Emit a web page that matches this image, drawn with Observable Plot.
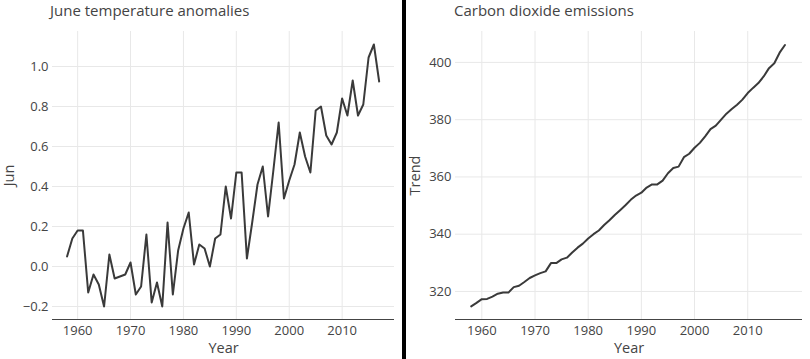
<!DOCTYPE html>
<html>
<head>
<meta charset="utf-8">
<script src="https://cdn.jsdelivr.net/npm/d3@7"></script>
<script src="https://cdn.jsdelivr.net/npm/@observablehq/plot@0.6"></script>
<style>
  html, body { margin: 0; padding: 0; background: #fff; }
  body { width: 810px; height: 359px; overflow: hidden; font-family: "Open Sans", sans-serif; }
  #wrap { display: flex; width: 810px; height: 359px; }
  .panel { position: relative; height: 359px; }
  .title { height: 28px; box-sizing: border-box; padding-top: 0px; font-size: 15px; color: #444; line-height: 20px; white-space: nowrap; }
  .sep { width: 4px; height: 359px; background: #000; }
  svg { display: block; }
  g[aria-label="x-axis label"] text, g[aria-label="y-axis label"] text { font-size: 14.5px; }
</style>
</head>
<body>
<div id="wrap">
  <div class="panel" id="left" style="width:402px"><div class="title" style="padding-left:50px">June temperature anomalies</div></div>
  <div class="sep"></div>
  <div class="panel" id="right" style="width:404px"><div class="title" style="padding-left:48px">Carbon dioxide emissions</div></div>
</div>
<script>
const years = d3.range(1958, 2018);
const junAnomaly = [
  0.05, 0.14, 0.18, 0.18, -0.13, -0.04, -0.09, -0.20, 0.06, -0.06,
  -0.05, -0.04, 0.02, -0.14, -0.10, 0.16, -0.18, -0.08, -0.20, 0.22,
  -0.14, 0.08, 0.19, 0.27, 0.01, 0.11, 0.09, 0.00, 0.14, 0.16,
  0.40, 0.24, 0.47, 0.47, 0.04, 0.22, 0.41, 0.50, 0.25, 0.48,
  0.72, 0.34, 0.43, 0.51, 0.67, 0.55, 0.47, 0.78, 0.80, 0.655,
  0.61, 0.67, 0.84, 0.755, 0.93, 0.755, 0.81, 1.045, 1.11, 0.925
];
const co2Trend = [
  314.8, 316.0, 317.3, 317.4, 318.2, 319.2, 319.6, 319.6, 321.5, 322.0,
  323.3, 324.7, 325.6, 326.4, 327.0, 329.9, 329.9, 331.2, 331.8, 333.6,
  335.3, 336.7, 338.5, 340.0, 341.3, 343.2, 344.9, 346.7, 348.4, 350.1,
  352.0, 353.5, 354.5, 356.3, 357.4, 357.4, 358.7, 361.3, 363.1, 363.6,
  366.9, 368.1, 370.2, 371.9, 374.2, 376.7, 377.9, 380.0, 382.1, 383.7,
  385.2, 387.0, 389.3, 391.1, 392.8, 395.1, 398.0, 399.7, 403.4, 406.1
];
const yearTicks = [1960, 1970, 1980, 1990, 2000, 2010];
const junTicks = [-0.2, 0, 0.2, 0.4, 0.6, 0.8, 1.0];
const co2Ticks = [320, 340, 360, 380, 400];

const leftData = years.map((y, i) => ({Year: y, Jun: junAnomaly[i]}));
const rightData = years.map((y, i) => ({Year: y, Trend: co2Trend[i]}));

function panel({data, yKey, yDomain, yTicks, yFmt, width, marginLeft, xDomain, yLabel}) {
  return Plot.plot({
    width, height: 331,
    marginTop: 3, marginBottom: 40, marginLeft, marginRight: 8,
    style: {fontFamily: "Open Sans, sans-serif", fontSize: "13px", color: "#444", background: "#fff"},
    x: {domain: xDomain},
    y: {domain: yDomain},
    marks: [
      Plot.gridX(yearTicks, {stroke: "#e8e8e8", strokeOpacity: 1}),
      Plot.gridY(yTicks, {stroke: "#e8e8e8", strokeOpacity: 1}),
      Plot.ruleY([yDomain[0]], {stroke: "#444", strokeWidth: 1.2}),
      Plot.axisX({ticks: yearTicks, tickFormat: d3.format("d"), tickSize: 0, tickPadding: 6, fontSize: 13, label: "Year", labelArrow: false, labelAnchor: "center", labelOffset: 33}),
      Plot.axisY({ticks: yTicks, tickFormat: yFmt, tickSize: 0, tickPadding: 4, fontSize: 13, label: yLabel, labelArrow: false, labelAnchor: "center", labelOffset: marginLeft - 3.5}),
      Plot.line(data, {x: "Year", y: yKey, stroke: "#3a3a3a", strokeWidth: 2})
    ]
  });
}

document.getElementById("left").appendChild(panel({
  data: leftData, yKey: "Jun", yDomain: [-0.265, 1.175], yTicks: junTicks,
  yFmt: d3.format(".1f"), width: 402, marginLeft: 52, xDomain: [1955.25, 2019.9], yLabel: "Jun"
}));
document.getElementById("right").appendChild(panel({
  data: rightData, yKey: "Trend", yDomain: [310.2, 410.8], yTicks: co2Ticks,
  yFmt: d3.format("d"), width: 404, marginLeft: 49, xDomain: [1955.05, 2020.3], yLabel: "Trend"
}));
</script>
</body>
</html>
